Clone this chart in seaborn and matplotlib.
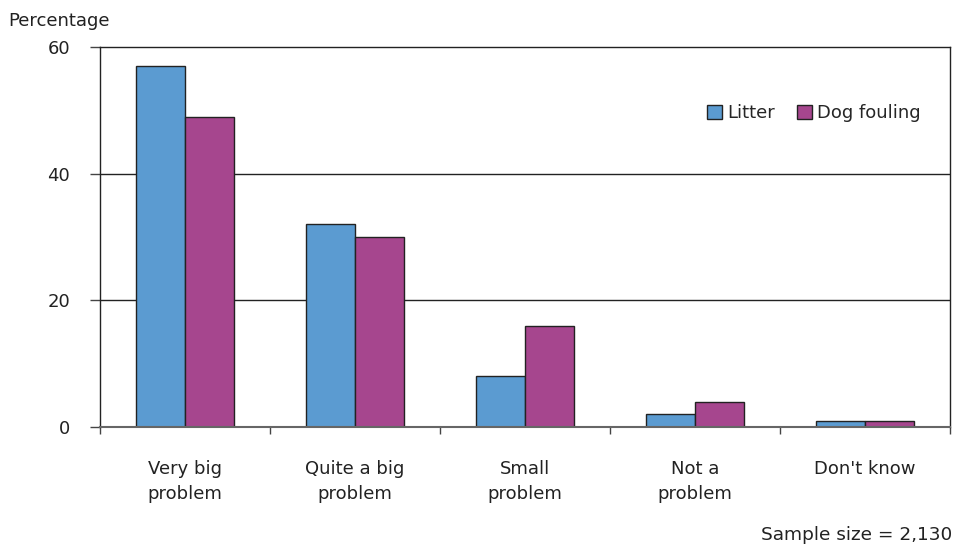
import pandas as pd
import matplotlib.pyplot as plt
import seaborn as sns
from matplotlib.ticker import FixedLocator

# Survey answers
categories = ['Very big\nproblem', 'Quite a big\nproblem', 'Small\nproblem', 'Not a\nproblem', "Don't know"]
litter = [57, 32, 8, 2, 1]
dog_fouling = [49, 30, 16, 4, 1]
y_ticks = [0, 20, 40, 60]

# Long table for seaborn
df = pd.DataFrame({
    'category': categories * 2,
    'value': litter + dog_fouling,
    'series': ['Litter'] * len(categories) + ['Dog fouling'] * len(categories),
})

colors = {'Litter': '#5B9BD1', 'Dog fouling': '#A6468E'}

sns.set_style('white')
plt.rcParams['font.family'] = ['DejaVu Sans']

fig = plt.figure(figsize=(9.59, 5.47), dpi=100)
ax = fig.add_axes([100 / 959, 120 / 547, 850 / 959, 380 / 547])

sns.barplot(data=df, x='category', y='value', hue='series', palette=colors,
            width=0.58, edgecolor='#222222', linewidth=1, ax=ax, saturation=1)

ax.set_xlim(-0.5, 4.5)
ax.set_ylim(0, 60)
ax.set_yticks(y_ticks)
ax.set_yticklabels([str(t) for t in y_ticks], fontsize=13, color='#222222')
for t in [20, 40]:
    ax.axhline(t, color='#222222', linewidth=1, zorder=0)

# category labels centred, tick marks at category boundaries
ax.set_xticks(range(len(categories)))
ax.set_xticklabels(categories, fontsize=13, color='#222222', linespacing=1.45)
ax.xaxis.set_minor_locator(FixedLocator([i - 0.5 for i in range(len(categories) + 1)]))
ax.tick_params(axis='x', which='major', length=0, pad=24)
ax.tick_params(axis='x', which='minor', length=5, width=1, color='#444444', direction='out', bottom=True)
ax.tick_params(axis='y', length=7.5, width=1, color='#444444', direction='out', left=True, pad=14)

for side in ['left', 'top', 'right']:
    ax.spines[side].set_color('#222222')
    ax.spines[side].set_linewidth(1)
ax.spines['bottom'].set_color('#666666')
ax.spines['bottom'].set_linewidth(1.5)

ax.set_xlabel('')
ax.set_ylabel('')

leg = ax.legend(loc='center right', bbox_to_anchor=(0.966, 0.826), ncol=2, frameon=False,
                fontsize=13, handlelength=0.85, handleheight=0.85, handletextpad=0.3,
                columnspacing=1.2, borderpad=0, borderaxespad=0)
for h in leg.legend_handles:
    h.set_edgecolor('#222222')

fig.text(8 / 959, 1 - 21 / 547, 'Percentage', fontsize=13, color='#222222', va='center', ha='left')
fig.text(952 / 959, 1 - 535 / 547, 'Sample size = 2,130', fontsize=13.3, color='#222222', va='center', ha='right')

fig.savefig('out.png', dpi=100)
